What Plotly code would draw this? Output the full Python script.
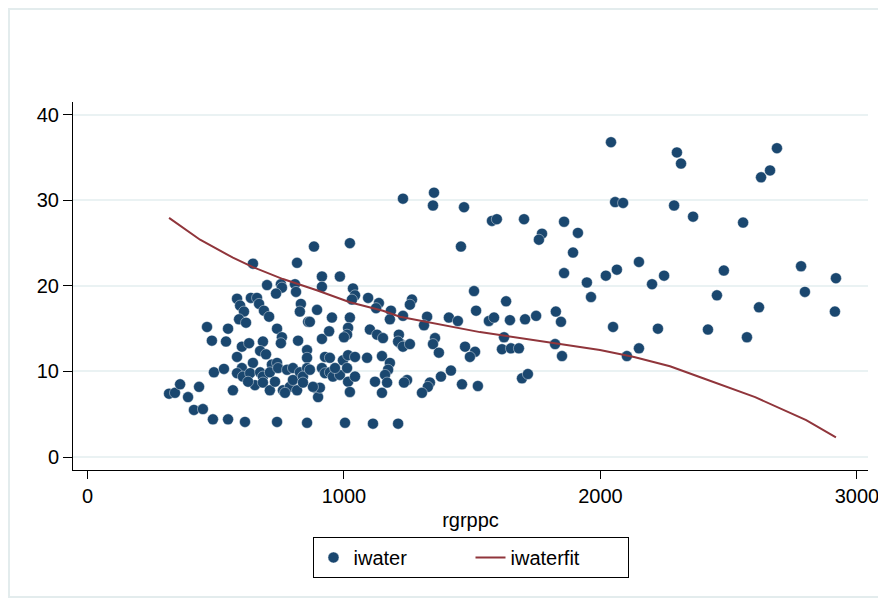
import plotly.graph_objects as go

# scatter data: rgrppc (x) and iwater (y)
rgrppc = [
    318, 341, 361, 392, 415, 450, 435, 489, 548, 466, 485, 540, 548, 493, 532, 567,
    645, 817, 883, 700, 754, 758, 735, 809, 813, 583, 595, 610, 591, 618, 637, 661,
    669, 688, 708, 832, 828, 860, 739, 758, 754, 821, 602, 630, 684, 673, 696, 583,
    856, 856, 914,
    645, 719, 739, 602, 583, 606, 634, 673, 684, 711, 743, 778, 801, 828, 856, 653,
    684, 711, 731, 762, 789, 817, 801, 840, 626, 770, 614, 739, 856,
    914, 914, 984, 1035, 1043, 1031, 1094, 1136, 1125, 1183, 1179, 1023, 895, 867,
    953, 1023, 1016, 942, 1012, 1000, 1101, 1129, 1152, 1214, 1218, 926, 945, 914,
    926, 945, 957, 984, 996, 1016, 1043, 1012, 1016, 1043, 1023, 887, 899, 906,
    1090, 1148, 1179, 1172, 1160, 1168, 1121, 1148, 1004, 1113, 1211, 867, 879, 965,
    840, 1211, 1230,
    1230, 1351, 1347, 1468, 1577, 1596, 1702, 1858, 1772, 1760, 1912, 1456, 1893,
    1858, 1947, 1963, 1507, 1632, 1265, 1257, 1230, 1324, 1312, 1409, 1444, 1515,
    1565, 1585, 1647, 1706, 1749, 1826, 1846, 1257, 1355, 1347, 1370, 1472, 1511,
    1491, 1624, 1616, 1651, 1682, 1823, 1850, 1246, 1234, 1335, 1327, 1304, 1378,
    1417, 1460, 1522, 1694, 1717,
    2041, 2298, 2314, 2688, 2661, 2626, 2057, 2088, 2287, 2361, 2556, 2021, 2064,
    2150, 2248, 2201, 2481, 2454, 2782, 2918, 2797, 2618, 2914, 2049, 2224, 2419,
    2571, 2150, 2103,
]
iwater = [
    7.4, 7.5, 8.5, 7.0, 5.5, 5.6, 8.2, 4.4, 4.4, 15.2, 13.6, 13.5, 15.0, 9.9, 10.3, 7.8,
    22.6, 22.7, 24.6, 20.1, 20.2, 19.8, 19.1, 20.2, 19.3, 18.5, 17.7, 17.0, 16.1, 15.7, 18.6, 18.6,
    17.9, 17.1, 16.4, 17.9, 17.0, 15.8, 15.0, 14.0, 13.3, 13.6, 12.9, 13.3, 13.5, 12.4, 12.0, 11.7,
    12.5, 11.6, 13.8,
    11.0, 10.8, 11.0, 10.4, 9.8, 9.4, 9.8, 9.9, 9.4, 9.9, 10.4, 10.2, 10.4, 9.9, 10.4, 8.4,
    8.7, 7.8, 8.8, 7.8, 8.2, 7.8, 9.0, 9.4, 8.8, 7.5, 4.1, 4.1, 4.0,
    21.1, 19.9, 21.1, 19.7, 18.9, 18.4, 18.6, 18.0, 17.4, 17.1, 16.1, 25.0, 17.2, 15.8,
    16.3, 16.3, 15.1, 14.7, 14.3, 14.0, 14.9, 14.3, 13.9, 14.3, 13.3, 11.7, 11.6, 10.4,
    9.8, 9.9, 9.4, 9.6, 11.3, 11.9, 11.7, 10.4, 8.8, 9.4, 7.6, 8.1, 7.0, 8.1,
    11.6, 11.8, 11.0, 10.2, 9.6, 8.7, 8.8, 7.5, 4.0, 3.9, 3.9, 10.2, 8.2, 10.4,
    8.7, 13.5, 12.9,
    30.2, 30.9, 29.4, 29.2, 27.6, 27.8, 27.8, 27.5, 26.1, 25.4, 26.2, 24.6, 23.9,
    21.5, 20.4, 18.7, 19.4, 18.2, 18.4, 17.8, 16.5, 16.4, 15.4, 16.3, 15.9, 17.1,
    15.9, 16.3, 16.0, 16.1, 16.5, 17.0, 15.8, 13.2, 13.9, 13.2, 12.2, 12.9, 12.3,
    11.7, 14.0, 12.6, 12.7, 12.7, 13.2, 11.8, 9.0, 8.7, 8.7, 8.2, 7.5, 9.4,
    10.1, 8.5, 8.3, 9.2, 9.7,
    36.8, 35.6, 34.3, 36.1, 33.5, 32.7, 29.8, 29.7, 29.4, 28.1, 27.4, 21.2, 21.9,
    22.8, 21.2, 20.2, 21.8, 18.9, 22.3, 20.9, 19.3, 17.5, 17.0, 15.2, 15.0, 14.9,
    14.0, 12.7, 11.8,
]

# fitted curve: iwaterfit against sorted rgrppc
fit_x = [318, 439, 567, 645, 762, 894, 1023, 1152, 1218, 1530, 1842, 1998, 2131, 2271, 2400, 2603, 2802, 2918]
fit_y = [27.95, 25.4, 23.3, 22.2, 20.8, 19.5, 18.1, 17.1, 16.4, 14.6, 13.2, 12.5, 11.7, 10.6, 9.2, 7.0, 4.3, 2.3]

x_ticks = [0, 1000, 2000, 3000]
y_ticks = [0, 10, 20, 30, 40]

NAVY = "#1a476f"
MAROON = "#90353b"
GRID = "#eaf2f3"
FONT = "Liberation Sans, Arial, sans-serif"

fig = go.Figure()
fig.add_trace(go.Scatter(
    x=rgrppc, y=iwater, mode="markers", name="iwater",
    marker=dict(color=NAVY, size=11, line=dict(width=0.6, color="rgba(255,255,255,0.7)")),
))
fig.add_trace(go.Scatter(
    x=fit_x, y=fit_y, mode="lines", name="iwaterfit",
    line=dict(color=MAROON, width=2),
))

fig.update_layout(
    width=878, height=595,
    paper_bgcolor="white", plot_bgcolor="white",
    margin=dict(l=65, r=18, t=94, b=133, autoexpand=False),
    font=dict(family=FONT, size=20, color="#000000"),
    showlegend=True,
    legend=dict(
        orientation="h", x=0.5, xanchor="center", y=-0.182, yanchor="top",
        bordercolor="#000000", borderwidth=1, bgcolor="white",
        font=dict(size=20), entrywidth=112, entrywidthmode="pixels",
    ),
    xaxis=dict(
        range=[-56.5, 3043], tickvals=x_ticks, ticktext=[str(v) for v in x_ticks],
        showgrid=False, zeroline=False,
        showline=True, linecolor="#000000", linewidth=1,
        ticks="outside", ticklen=8, tickcolor="#000000", tickwidth=1,
        title=dict(text="rgrppc", standoff=6, font=dict(size=20)),
        tickfont=dict(size=20),
    ),
    yaxis=dict(
        range=[-1.52, 41.5], tickvals=y_ticks, ticktext=[str(v) for v in y_ticks],
        showgrid=True, gridcolor=GRID, gridwidth=1.5, zeroline=False,
        showline=True, linecolor="#000000", linewidth=1,
        ticks="outside", ticklen=9, tickcolor="#000000", tickwidth=1,
        tickfont=dict(size=20),
    ),
    shapes=[dict(
        type="rect", xref="paper", yref="paper",
        x0=-0.0805, x1=1.0164, y0=-0.345, y1=1.2527,
        line=dict(color="#e3eced", width=2), fillcolor="rgba(0,0,0,0)", layer="below",
    )],
)

fig.write_html("out.html")
